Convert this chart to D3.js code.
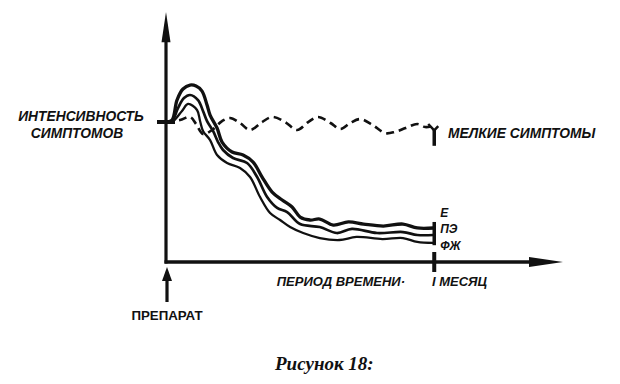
<!DOCTYPE html>
<html>
<head>
<meta charset="utf-8">
<script src="https://cdn.jsdelivr.net/npm/d3@7"></script>
<style>
  body { margin: 0; background: #fff; }
  text { font-family: "Liberation Sans", Arial, sans-serif; font-weight: bold; fill: #111; }
  .it { font-style: italic; }
  .cap { font-family: "Liberation Serif", "DejaVu Serif", serif; font-style: italic; font-size: 19px; }
</style>
</head>
<body>
<div id="chart"></div>
<script>
var svgWidth = 620;
var svgHeight = 384;

// days since the drug was taken, symptom intensity (100 = starting level)
var dayE = [0, 0.67, 1.23, 1.9, 2.69, 3.36, 4.03, 4.59, 4.93, 5.71, 6.27, 7.39, 8.62, 9.74, 10.75, 11.87, 12.99, 14.1, 15.0, 16.1, 17.2, 18.7, 20.4, 22.1, 24.3, 26.5, 28.1, 29.9];
var valE = [100, 101.4, 115.7, 123.6, 126.4, 125.7, 122.1, 112.1, 105, 95.7, 85.7, 78.6, 76.4, 71.4, 60.7, 50, 44.3, 39.3, 32.1, 30, 30.7, 26.4, 28.6, 27.1, 25.7, 27.1, 24.3, 24.3];

var dayPE = [0, 0.67, 1.34, 2.01, 2.69, 3.58, 4.14, 4.59, 5.26, 5.82, 6.38, 7.5, 9.07, 10.19, 11.31, 12.43, 13.55, 15.0, 17.2, 19.1, 20.8, 23.6, 26.5, 28.1, 29.9];
var valPE = [100, 100.7, 110, 117.1, 119.3, 115.7, 107.9, 100.7, 93.6, 85.7, 80, 74.3, 70.7, 60.7, 46.4, 38.6, 35.7, 27.1, 25, 20.7, 23.6, 20.7, 21.4, 19.3, 19.3];

var dayFZ = [0, 0.67, 1.79, 2.46, 3.47, 3.81, 4.14, 4.93, 5.71, 6.83, 8.28, 9.4, 10.52, 11.64, 12.76, 13.88, 15.34, 17.2, 19.4, 21.3, 24.2, 26.5, 28.1, 29.9];
var valFZ = [100, 100, 107.9, 112.9, 108.6, 100.7, 93.6, 87.1, 76.4, 70.7, 67.1, 60.7, 46.4, 35, 30, 25, 20.7, 17.1, 15.7, 17.9, 16.4, 17.1, 14.3, 13.6];

// minor symptoms (dashed)
var dayMinor = [0, 1.57, 2.69, 3.36, 4.14, 5.15, 6.27, 7.16, 8.28, 9.4, 10.75, 11.87, 13.32, 14.67, 15.9, 17.0, 18.4, 19.5, 20.6, 21.7, 23.1, 24.5, 25.6, 26.8, 28.1, 29.0, 29.8];
var valMinor = [100, 101.4, 103.6, 98.6, 91.4, 94.3, 100.7, 102.9, 99.3, 94.3, 100, 103.6, 100, 94.3, 100, 103.6, 99.3, 95, 99.3, 102.1, 97.9, 92.1, 92.9, 95.7, 98.6, 96.4, 97.1];

var seriesLabels = ["Е", "ПЭ", "ФЖ"];
var monthDay = 30;

var svg = d3.select("#chart")
  .append("svg")
  .attr("width", svgWidth)
  .attr("height", svgHeight);

var xScale = d3.scaleLinear().domain([0, 44.4]).range([166, 563]);
var yScale = d3.scaleLinear().domain([0, 178.6]).range([262, 12]);

var x0 = xScale(0), y0 = yScale(0);

// y axis with arrow
svg.append("line")
  .attr("x1", x0).attr("y1", y0 + 1.5)
  .attr("x2", x0).attr("y2", yScale(165))
  .attr("stroke", "#111").attr("stroke-width", 3.2);
svg.append("path")
  .attr("d", `M${x0},${yScale(178.6)} L${x0 + 4.5},${yScale(157)} L${x0 - 4.5},${yScale(157)} Z`)
  .attr("fill", "#111");

// x axis with arrow
svg.append("line")
  .attr("x1", x0 - 1.5).attr("y1", y0)
  .attr("x2", xScale(41)).attr("y2", y0)
  .attr("stroke", "#111").attr("stroke-width", 3.5);
svg.append("path")
  .attr("d", `M${xScale(44.4)},${y0} L${xScale(40.6)},${y0 - 5} L${xScale(40.6)},${y0 + 5} Z`)
  .attr("fill", "#111");

// one month tick
svg.append("line")
  .attr("x1", xScale(monthDay)).attr("y1", y0 - 10)
  .attr("x2", xScale(monthDay)).attr("y2", y0 + 10)
  .attr("stroke", "#111").attr("stroke-width", 4);

// start level tick
svg.append("line")
  .attr("x1", x0 - 9).attr("y1", yScale(100))
  .attr("x2", x0 + 9).attr("y2", yScale(100))
  .attr("stroke", "#111").attr("stroke-width", 4);

var line = d3.line()
  .x(d => xScale(d[0]))
  .y(d => yScale(d[1]))
  .curve(d3.curveCatmullRom.alpha(0.5));

// dashed minor symptoms line
svg.append("path")
  .attr("d", line(d3.zip(dayMinor, valMinor)))
  .attr("fill", "none")
  .attr("stroke", "#111")
  .attr("stroke-width", 2.6)
  .attr("stroke-dasharray", "8,5");

// end mark of dashed line
var xm = xScale(monthDay);
svg.append("path")
  .attr("d", `M${xm - 6},${yScale(98.6)} L${xm},${yScale(94)} L${xm + 4},${yScale(97)}`)
  .attr("fill", "none").attr("stroke", "#111").attr("stroke-width", 2.5);
svg.append("line")
  .attr("x1", xm).attr("y1", yScale(95))
  .attr("x2", xm).attr("y2", yScale(83))
  .attr("stroke", "#111").attr("stroke-width", 3.5);

// the three solid curves
var curves = [
  { d: dayE, v: valE, w: 3.3 },
  { d: dayPE, v: valPE, w: 2.7 },
  { d: dayFZ, v: valFZ, w: 2.3 }
];
curves.forEach(function(c) {
  svg.append("path")
    .attr("d", line(d3.zip(c.d, c.v)))
    .attr("fill", "none")
    .attr("stroke", "#111")
    .attr("stroke-width", c.w)
    .attr("stroke-linejoin", "round");
});

// end bar of solid curves
svg.append("line")
  .attr("x1", xm).attr("y1", yScale(28.6))
  .attr("x2", xm).attr("y2", yScale(12))
  .attr("stroke", "#111").attr("stroke-width", 3.5);

// series labels
var labelY = [217, 233, 250];
svg.selectAll(".slab")
  .data(seriesLabels)
  .enter()
  .append("text")
  .attr("class", "slab it")
  .attr("x", xm + 6)
  .attr("y", (d, i) => labelY[i])
  .style("font-size", "12px")
  .text(d => d);

// texts
svg.append("text").attr("class", "it")
  .attr("x", 81).attr("y", 121)
  .attr("text-anchor", "middle")
  .style("font-size", "13.8px")
  .text("ИНТЕНСИВНОСТЬ");
svg.append("text").attr("class", "it")
  .attr("x", 77).attr("y", 138)
  .attr("text-anchor", "middle")
  .style("font-size", "13.8px")
  .text("СИМПТОМОВ");

svg.append("text").attr("class", "it")
  .attr("x", 448).attr("y", 138)
  .style("font-size", "13.8px")
  .text("МЕЛКИЕ СИМПТОМЫ");

svg.append("text").attr("class", "it")
  .attr("x", 405).attr("y", 286)
  .attr("text-anchor", "end")
  .style("font-size", "13px")
  .text("ПЕРИОД ВРЕМЕНИ·");
svg.append("text").attr("class", "it")
  .attr("x", 432).attr("y", 286)
  .style("font-size", "13px")
  .text("I МЕСЯЦ");

// drug arrow
svg.append("line")
  .attr("x1", x0 + 1).attr("y1", 302)
  .attr("x2", x0 + 1).attr("y2", 278)
  .attr("stroke", "#111").attr("stroke-width", 3.2);
svg.append("path")
  .attr("d", `M${x0 + 1},${y0 + 5} L${x0 + 6},${y0 + 19} L${x0 - 4},${y0 + 19} Z`)
  .attr("fill", "#111");
svg.append("text")
  .attr("x", 167).attr("y", 320)
  .attr("text-anchor", "middle")
  .style("font-size", "13.3px")
  .text("ПРЕПАРАТ");

svg.append("text").attr("class", "cap")
  .attr("x", 275).attr("y", 370)
  .text("Рисунок 18:");
</script>
</body>
</html>
